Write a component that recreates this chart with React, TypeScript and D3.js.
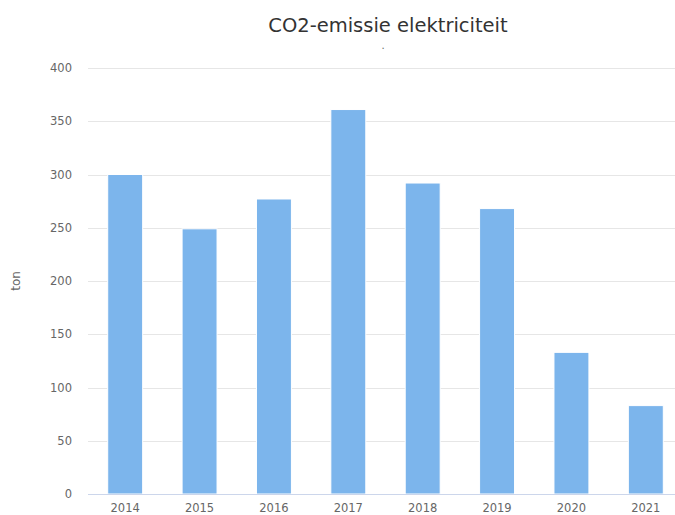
import React from "react";
import * as d3 from "d3";

const categories = ["2014", "2015", "2016", "2017", "2018", "2019", "2020", "2021"];
const values = [300, 249, 277, 361, 292, 268, 133, 83];
const yTicks = [0, 50, 100, 150, 200, 250, 300, 350, 400];

export default function App() {
  const W = 675, H = 515;
  const left = 88, right = 683, top = 68, bottom = 494;
  const x = d3.scaleBand<string>().domain(categories).range([left, right]).paddingInner(0.53).paddingOuter(0.265);
  const y = d3.scaleLinear().domain([0, 400]).range([bottom, top]);
  const font = "'DejaVu Sans', sans-serif";
  return (
    <svg width={W} height={H} style={{ position: "absolute", left: 0, top: 0, background: "#fff" }} fontFamily={font}>
      <rect x={0} y={0} width={W} height={H} fill="#fff" />
      <text x={388} y={32} textAnchor="middle" fontSize={19.5} fill="#333">CO2-emissie elektriciteit</text>
      <text x={383} y={49} textAnchor="middle" fontSize={10} fill="#666">.</text>
      {yTicks.map(t => (
        <g key={t}>
          {t !== 0 && <line x1={left} x2={W} y1={Math.round(y(t)) + 0.5} y2={Math.round(y(t)) + 0.5} stroke="#e6e6e6" />}
          <text x={72} y={y(t) + 4} textAnchor="end" fontSize={11.5} fill="#666">{t}</text>
        </g>
      ))}
      <text transform={`translate(20,${(top + bottom) / 2}) rotate(-90)`} textAnchor="middle" fontSize={12} fill="#666">ton</text>
      {categories.map((c, i) => (
        <rect key={c} x={x(c)!} y={y(values[i])} width={x.bandwidth()} height={bottom - y(values[i])} fill="#7cb5ec" stroke="#fff" strokeWidth={1} />
      ))}
      <line x1={left} x2={W} y1={bottom + 0.5} y2={bottom + 0.5} stroke="#ccd6eb" />
      {categories.map(c => (
        <text key={c} x={x(c)! + x.bandwidth() / 2} y={512} textAnchor="middle" fontSize={11.5} fill="#666">{c}</text>
      ))}
    </svg>
  );
}
